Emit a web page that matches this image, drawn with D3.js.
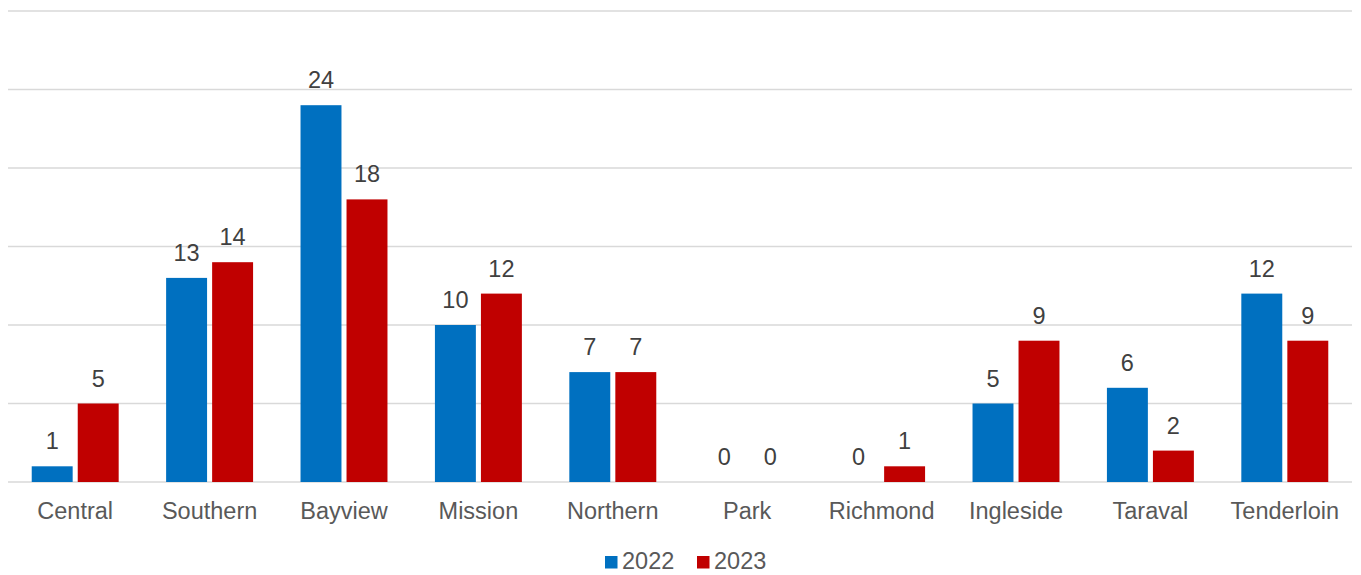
<!DOCTYPE html>
<html>
<head>
<meta charset="utf-8">
<script src="https://cdn.jsdelivr.net/npm/d3@7"></script>
<style>
  body { margin: 0; background: #fff; }
  text { font-family: "Liberation Sans", Arial, sans-serif; }
</style>
</head>
<body>
<div id="wrapper"></div>
<script>
const districts = ['Central', 'Southern', 'Bayview', 'Mission', 'Northern', 'Park', 'Richmond', 'Ingleside', 'Taraval', 'Tenderloin'];
const years = ['2022', '2023'];
const values2022 = [1, 13, 24, 10, 7, 0, 0, 5, 6, 12];
const values2023 = [5, 14, 18, 12, 7, 0, 1, 9, 2, 9];
const yTicks = [0, 5, 10, 15, 20, 25, 30];
const colors = ['#0070C0', '#C00000'];

function drawBars() {
  const dimensions = {
    width: 1361,
    height: 575,
    margin: { top: 11, right: 9, bottom: 93, left: 8 },
  };
  dimensions.boundedWidth = dimensions.width - dimensions.margin.left - dimensions.margin.right;
  dimensions.boundedHeight = dimensions.height - dimensions.margin.top - dimensions.margin.bottom;

  const series = [values2022, values2023];

  const xScale = d3.scaleBand()
    .domain(districts)
    .range([0, dimensions.boundedWidth])
    .paddingInner(0.353)
    .paddingOuter(0.1765);

  const xInner = d3.scaleBand()
    .domain(years)
    .range([0, xScale.bandwidth()])
    .paddingInner(0.11);

  const yScale = d3.scaleLinear()
    .domain([0, 30])
    .range([dimensions.boundedHeight, 0]);

  const svg = d3.select('#wrapper')
    .append('svg')
    .attr('width', dimensions.width)
    .attr('height', dimensions.height);

  const bounds = svg.append('g')
    .attr('transform', `translate(${dimensions.margin.left}, ${dimensions.margin.top})`);

  // gridlines
  bounds.append('g')
    .selectAll('line')
    .data(yTicks)
    .join('line')
    .attr('x1', 0)
    .attr('x2', dimensions.boundedWidth)
    .attr('y1', (d) => yScale(d))
    .attr('y2', (d) => yScale(d))
    .attr('stroke', '#d9d9d9')
    .attr('stroke-width', 1.5);

  // bars + labels
  const groups = bounds.selectAll('.district')
    .data(districts)
    .join('g')
    .attr('class', 'district')
    .attr('transform', (d) => `translate(${xScale(d)}, 0)`);

  years.forEach((year, s) => {
    groups.append('rect')
      .attr('x', xInner(year))
      .attr('width', xInner.bandwidth())
      .attr('y', (d, i) => yScale(series[s][i]))
      .attr('height', (d, i) => yScale(0) - yScale(series[s][i]))
      .attr('fill', colors[s]);

    groups.append('text')
      .attr('x', xInner(year) + xInner.bandwidth() / 2)
      .attr('y', (d, i) => yScale(series[s][i]) - 17)
      .attr('text-anchor', 'middle')
      .attr('fill', '#404040')
      .style('font-size', '23.5px')
      .text((d, i) => series[s][i]);
  });

  // x axis labels
  const xAxis = d3.axisBottom(xScale).tickSize(0).tickPadding(0);
  const xAxisGroup = bounds.append('g')
    .attr('transform', `translate(0, ${dimensions.boundedHeight})`)
    .call(xAxis);
  xAxisGroup.select('.domain').remove();
  xAxisGroup.selectAll('text')
    .attr('dy', null)
    .attr('y', 37)
    .attr('fill', '#595959')
    .style('font-size', '23.5px')
    .style('font-family', '"Liberation Sans", Arial, sans-serif');

  // legend
  const legend = svg.append('g').attr('id', 'legend');
  const legendItems = [
    { label: years[0], x: 605 },
    { label: years[1], x: 697 },
  ];
  legendItems.forEach((item, i) => {
    legend.append('rect')
      .attr('x', item.x)
      .attr('y', 556)
      .attr('width', 12.5)
      .attr('height', 12.5)
      .attr('fill', colors[i]);
    legend.append('text')
      .attr('x', item.x + 17)
      .attr('y', 569)
      .attr('fill', '#595959')
      .style('font-size', '23.5px')
      .text(item.label);
  });
}
drawBars();
</script>
</body>
</html>
